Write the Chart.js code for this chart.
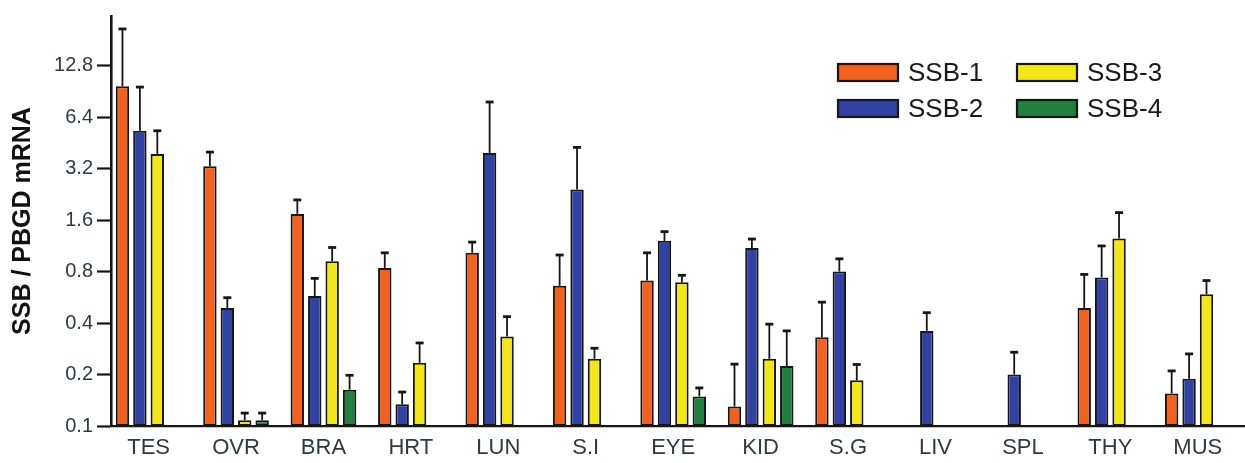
<!DOCTYPE html>
<html>
<head>
<meta charset="utf-8">
<title>SSB / PBGD mRNA</title>
<script src="https://cdn.jsdelivr.net/npm/chart.js@4/dist/chart.umd.min.js"></script>
<style>
  html, body { margin: 0; padding: 0; background: #ffffff; }
  #c { display: block; }
</style>
</head>
<body>
<canvas id="c" width="1245" height="463"></canvas>
<script>
// Tissues
const categories = ['TES', 'OVR', 'BRA', 'HRT', 'LUN', 'S.I', 'EYE', 'KID', 'S.G', 'LIV', 'SPL', 'THY', 'MUS'];

// Mean expression relative to PBGD (null = not detected)
const ssb1 = [9.7, 3.3, 1.74, 0.84, 1.03, 0.66, 0.71, 0.13, 0.33, null, null, 0.49, 0.155];
const ssb2 = [5.33, 0.49, 0.575, 0.134, 3.95, 2.42, 1.21, 1.10, 0.80, 0.36, 0.20, 0.74, 0.189];
const ssb3 = [3.9, 0.108, 0.918, 0.234, 0.334, 0.247, 0.693, 0.247, 0.185, null, null, 1.25, 0.589];
const ssb4 = [null, 0.108, 0.163, null, null, null, 0.149, 0.224, null, null, null, null, null];

// Upper end of each error bar
const ssb1Hi = [21.0, 4.0, 2.1, 1.03, 1.19, 1.0, 1.03, 0.23, 0.53, null, null, 0.77, 0.21];
const ssb2Hi = [9.6, 0.563, 0.73, 0.158, 7.85, 4.26, 1.37, 1.24, 0.95, 0.46, 0.27, 1.13, 0.264];
const ssb3Hi = [5.33, 0.119, 1.107, 0.306, 0.436, 0.285, 0.761, 0.394, 0.229, null, null, 1.77, 0.709];
const ssb4Hi = [null, 0.119, 0.198, null, null, null, 0.167, 0.36, null, null, null, null, null];

// Log2 axis ticks
const yTickValues = [0.1, 0.2, 0.4, 0.8, 1.6, 3.2, 6.4, 12.8];
const yTickLabels = ['0.1', '0.2', '0.4', '0.8', '1.6', '3.2', '6.4', '12.8'];

const seriesNames = ['SSB-1', 'SSB-2', 'SSB-3', 'SSB-4'];
const seriesColors = ['#f0621f', '#3142a2', '#f4e61c', '#238041'];

const FONT = "'Liberation Sans', Arial, Helvetica, sans-serif";

function toPoints(values, highs) {
  const pts = [];
  values.forEach((v, i) => {
    if (v !== null) pts.push({ x: i, y: v, hi: highs[i] });
  });
  return pts;
}

const datasets = [
  [ssb1, ssb1Hi], [ssb2, ssb2Hi], [ssb3, ssb3Hi], [ssb4, ssb4Hi]
].map(([vals, his], k) => ({
  label: seriesNames[k],
  data: toPoints(vals, his),
  backgroundColor: seriesColors[k],
  borderColor: '#161616',
  borderWidth: 2,
  borderSkipped: false,
  categoryPercentage: 0.797,
  barPercentage: 0.77
}));

// Upward error bars with caps
const errorBars = {
  id: 'errorBars',
  afterDatasetsDraw(chart) {
    const ctx = chart.ctx;
    const yScale = chart.scales.y;
    ctx.save();
    ctx.strokeStyle = '#161616';
    chart.data.datasets.forEach((ds, d) => {
      const meta = chart.getDatasetMeta(d);
      meta.data.forEach((bar, k) => {
        const pt = ds.data[k];
        if (!pt || pt.hi === null || pt.hi === undefined) return;
        const yHi = yScale.getPixelForValue(pt.hi);
        ctx.lineWidth = 1.8;
        ctx.beginPath();
        ctx.moveTo(bar.x, bar.y);
        ctx.lineTo(bar.x, yHi);
        ctx.stroke();
        ctx.lineWidth = 2.8;
        ctx.beginPath();
        ctx.moveTo(bar.x - 4, yHi);
        ctx.lineTo(bar.x + 4, yHi);
        ctx.stroke();
      });
    });
    ctx.restore();
  }
};

// Two-column legend inside the plot area
const boxLegend = {
  id: 'boxLegend',
  afterDraw(chart) {
    const ctx = chart.ctx;
    const cols = [838, 1017];
    const rows = [72.5, 108.5];
    const slots = [[0, 0], [0, 1], [1, 0], [1, 1]]; // [col, row] per series
    ctx.save();
    ctx.font = '26px ' + FONT;
    ctx.textBaseline = 'middle';
    ctx.textAlign = 'left';
    chart.data.datasets.forEach((ds, d) => {
      const [c, r] = slots[d];
      const x = cols[c], y = rows[r];
      ctx.fillStyle = ds.backgroundColor;
      ctx.fillRect(x, y - 8.5, 60, 17);
      ctx.lineWidth = 2.2;
      ctx.strokeStyle = '#161616';
      ctx.strokeRect(x, y - 8.5, 60, 17);
      ctx.fillStyle = '#1a1a1a';
      ctx.fillText(ds.label, x + 70, y + 1);
    });
    ctx.restore();
  }
};

new Chart(document.getElementById('c'), {
  type: 'bar',
  data: { datasets },
  plugins: [errorBars, boxLegend],
  options: {
    responsive: false,
    animation: false,
    devicePixelRatio: 1,
    layout: { padding: { top: 13, left: 0, right: 0, bottom: 0 } },
    plugins: {
      legend: { display: false },
      tooltip: { enabled: false }
    },
    scales: {
      x: {
        type: 'linear',
        min: -0.43,
        max: 12.54,
        offset: false,
        afterBuildTicks: (scale) => { scale.ticks = categories.map((_, i) => ({ value: i })); },
        afterFit: (scale) => { scale.height = 37; },
        grid: { display: false, drawTicks: false },
        border: { display: true, color: '#161616', width: 2.2 },
        ticks: {
          autoSkip: false,
          maxRotation: 0,
          padding: 9,
          color: '#2c3a42',
          font: { family: FONT, size: 22 },
          callback: (v) => categories[v]
        }
      },
      y: {
        type: 'logarithmic',
        min: 0.1,
        max: 25,
        afterBuildTicks: (scale) => { scale.ticks = yTickValues.map(v => ({ value: v })); },
        afterFit: (scale) => { scale.width = 111; },
        grid: {
          drawOnChartArea: false,
          drawTicks: true,
          tickLength: 14,
          tickWidth: 2.2,
          tickColor: '#161616'
        },
        border: { display: true, color: '#161616', width: 2.6 },
        ticks: {
          autoSkip: false,
          padding: 4,
          color: '#2c3a42',
          font: { family: FONT, size: 20 },
          callback: (v, i) => yTickLabels[i]
        },
        title: {
          display: true,
          text: 'SSB / PBGD mRNA',
          color: '#111111',
          padding: { top: 8, bottom: 0 },
          font: { family: FONT, size: 25, weight: 'bold' }
        }
      }
    }
  }
});
</script>
</body>
</html>
